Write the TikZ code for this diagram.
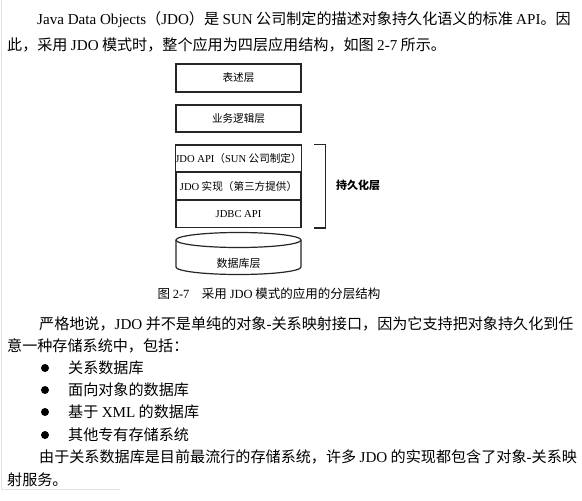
\documentclass[tikz,border=0pt]{standalone}
\usepackage{fontspec}
\setmainfont{Noto Sans CJK SC}
\newfontfamily\latfont{Liberation Serif}
\newcommand\en[1]{{\latfont #1}}
\usetikzlibrary{calc,positioning}

\tikzset{
  bodytext/.style={anchor=west, inner sep=0pt, font=\fontsize{15.1}{18}\selectfont},
  layer/.style={draw=black!85, line width=1.2pt, minimum width=125pt, inner sep=0pt,
    font=\fontsize{10.6}{13}\selectfont},
}

\begin{document}
\begin{tikzpicture}[x=1pt,y=-1pt]
  \useasboundingbox (0,0) rectangle (582,501);
  \fill[white] (0,0) rectangle (582,501);
  % page edge
  \draw[black!12, line width=0.8pt] (1,0) -- (1,489) -- (120,489);

  % Opening paragraph
  \node[bodytext] (intro1) at (37,20) {\en{Java Data Objects}（\en{JDO}）是 \en{SUN} 公司制定的描述对象持久化语义的标准 \en{API}。因};
  \node[bodytext] (intro2) at (7,45) {此，采用 \en{JDO} 模式时，整个应用为四层应用结构，如图 \en{2-7} 所示。};

  % Upper layers
  \node[layer, minimum height=28pt] (present) at (238.5,78) {表述层};
  \node[layer, minimum height=27pt] (logic) at (238.5,118.5) {业务逻辑层};

  % Persistence stack
  \node[layer, minimum height=26.7pt] (jdoapi) at (238.5,158.3) {\en{JDO API}（\en{SUN} 公司制定）};
  \node[layer, minimum height=26.7pt, below=0pt of jdoapi] (jdoimpl) {\en{JDO} 实现（第三方提供）};
  \node[layer, minimum height=26.7pt, below=0pt of jdoimpl] (jdbc) {\en{JDBC API}};

  % Bracket round the stack
  \coordinate (B1) at ($(jdoapi.north east)+(12,0)$);
  \coordinate (B2) at ($(jdbc.south east)+(12,0)$);
  \draw[black!85, line width=1.2pt] (B1) -- ++(11,0) |- (B2);
  \node[font=\fontsize{11}{13}\selectfont\bfseries] (persist) at (358,185) {持久化层};

  % Database cylinder
  \def\rx{62.5}
  \def\ry{7.5}
  \coordinate (C) at (238.5,240);
  \draw[black!85, line width=1.2pt] (C) ellipse ({\rx} and {\ry});
  \draw[black!85, line width=1.2pt] ($(C)+(-\rx,0)$) -- ++(0,27)
    arc[start angle=180, end angle=360, x radius=\rx, y radius=-\ry] -- ++(0,-27);
  \node[font=\fontsize{11}{13}\selectfont] (db) at (238.5,263) {数据库层};

  \node[font=\fontsize{12.5}{15}\selectfont] (caption) at (269,294) {图 \en{2-7}\quad 采用 \en{JDO} 模式的应用的分层结构};

  % Second paragraph
  \node[bodytext] (para1) at (39,324) {严格地说，\en{JDO} 并不是单纯的对象\en{-}关系映射接口，因为它支持把对象持久化到任};
  \node[bodytext] (para2) at (7,346) {意一种存储系统中，包括：};

  \fill (45,368) circle (4);
  \node[bodytext] (item1) at (68,368) {关系数据库};
  \fill (45,390) circle (4);
  \node[bodytext] (item2) at (68,390) {面向对象的数据库};
  \fill (45,412) circle (4);
  \node[bodytext] (item3) at (68,412) {基于 \en{XML} 的数据库};
  \fill (45,435) circle (4);
  \node[bodytext] (item4) at (68,435) {其他专有存储系统};

  \node[bodytext] (outro1) at (39,457) {由于关系数据库是目前最流行的存储系统，许多 \en{JDO} 的实现都包含了对象\en{-}关系映};
  \node[bodytext] (outro2) at (7,480) {射服务。};
\end{tikzpicture}
\end{document}
